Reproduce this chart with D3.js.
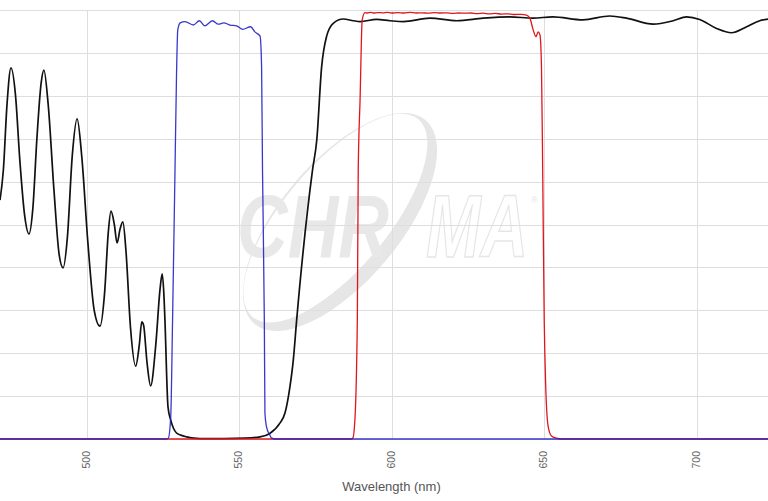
<!DOCTYPE html>
<html>
<head>
<meta charset="utf-8">
<script src="https://cdn.jsdelivr.net/npm/d3@7"></script>
<style>
  html, body { margin: 0; padding: 0; background: #fff; }
  svg { display: block; }
</style>
</head>
<body>
<svg id="chart" width="768" height="501"></svg>
<script>
// ---------------- DATA ----------------
const tickLabels = [500, 550, 600, 650, 700];
const yGridValues = [0, 10, 20, 30, 40, 50, 60, 70, 80, 90, 100];

// Black curve (dichroic) wavelength / transmission
const blackWl = [471.5, 472.6, 473.8, 475.1, 476.6, 478.0, 479.6, 481.0, 482.3, 483.6, 485.0, 485.9,
  487.3, 489.2, 490.9, 492.2, 493.6, 495.2, 496.8, 498.3, 500.3, 502.4, 504.3, 505.8, 507.0, 507.9,
  509.0, 509.9, 510.9, 511.8, 512.8, 514.3, 516.0, 517.2, 518.0, 518.6, 519.7, 520.9, 522.6, 524.0,
  524.7, 525.3, 525.6, 526.6, 527.5, 528.4, 529.4, 530.8, 532.7, 535.0, 537.1, 545.0, 552.0, 556.8,
  560.0, 563.3, 565.0, 566.6, 567.7, 568.8, 574.0, 575.4, 577.0, 578.6, 580.8, 584.1, 587.4, 589.6,
  595.0, 599.4, 603.8, 612.5, 621.3, 630.0, 638.7, 646.3, 652.8, 662.7, 671.5, 677.0, 685.7, 692.3,
  696.7, 701.0, 706.5, 711.4, 716.4, 720.7, 723.5];
const blackT = [55.7, 62.7, 78.0, 86.5, 80.0, 65.0, 52.0, 47.8, 54.0, 70.0, 83.0, 86.0,
  78.0, 58.0, 43.0, 39.9, 47.0, 66.0, 74.6, 66.0, 46.0, 30.0, 26.3, 34.0, 48.0, 53.1,
  50.0, 45.7, 49.0, 50.6, 44.0, 26.0, 17.0, 22.0, 27.3, 26.5, 18.0, 12.4, 22.0, 35.0,
  38.5, 33.0, 27.7, 7.5, 4.4, 2.5, 1.4, 0.9, 0.5, 0.2, 0.1, 0.1, 0.2, 0.5,
  1.3, 3.7, 6.1, 12.2, 18.4, 27.7, 62.7, 69.7, 86.8, 93.8, 96.9, 97.9, 97.5, 97.3,
  97.8, 97.5, 97.3, 98.1, 97.5, 98.1, 98.4, 98.1, 98.4, 97.7, 98.6, 98.1, 96.7, 97.5,
  98.4, 97.8, 95.7, 94.7, 96.1, 97.5, 97.9];

// Blue curve (excitation)
const blueWl = [471.5, 526.0, 526.7, 527.5, 528.1, 528.9, 529.4, 529.8, 530.6, 532.2, 534.9, 536.9,
  538.7, 541.2, 543.1, 544.9, 546.9, 549.1, 551.1, 553.7, 555.1, 556.8, 557.3, 557.6, 558.2, 558.4,
  558.9, 560.0, 560.6, 562.0, 723.5];
const blueT = [0, 0, 0.2, 5.2, 27.7, 62.7, 85.0, 95.3, 97.0, 97.3, 96.5, 97.5,
  96.3, 97.5, 96.7, 97.0, 96.5, 96.3, 95.5, 96.1, 94.9, 93.9, 86.8, 62.7, 27.7, 6.0,
  2.9, 0.9, 0.2, 0, 0];

// Red curve (emission)
const redWl = [471.5, 586.5, 587.2, 587.9, 588.7, 589.0, 589.6, 590.3, 591.2, 592.0, 593.0, 594.0,
  595.5, 597.0, 598.5, 600.0, 602.0, 604.0, 606.0, 608.0, 610.0, 612.0, 614.0, 616.0, 618.0, 620.0,
  622.0, 624.0, 626.0, 628.0, 630.0, 632.0, 634.0, 636.0, 638.0, 640.0, 642.5, 644.2, 645.3, 646.4,
  647.3, 648.0, 648.6, 649.1, 649.5, 650.0, 650.5, 651.3, 652.4, 654.0, 655.5, 723.5];
const redT = [0, 0, 0.2, 4.4, 27.7, 62.7, 79.0, 97.7, 99.4, 99.3, 99.45, 99.3,
  99.4, 99.35, 99.45, 99.3, 99.4, 99.3, 99.45, 99.3, 99.35, 99.25, 99.4, 99.3, 99.35, 99.2,
  99.3, 99.25, 99.3, 99.15, 99.25, 99.1, 99.2, 99.05, 99.1, 98.95, 99.0, 98.8, 98.1, 95.3,
  93.8, 94.9, 94.2, 86.8, 62.7, 27.7, 12.2, 2.9, 0.7, 0.2, 0, 0];

// ---------------- CHART ----------------
const W = 768, H = 501;
const svg = d3.select("#chart");
const x = d3.scaleLinear().domain([471.5, 723.4]).range([0, W]);
const y = d3.scaleLinear().domain([0, 100]).range([439, 10]);

const font = "'Liberation Sans', Arial, sans-serif";

// Watermark logo (behind grid)
const wm = svg.append("g").attr("class", "watermark");
const eg = wm.append("g").attr("transform", "translate(340,222) rotate(-50)");
const ellPath = (cx, cy, rx, ry) =>
  `M${cx + rx},${cy} A${rx},${ry} 0 1 0 ${cx - rx},${cy} A${rx},${ry} 0 1 0 ${cx + rx},${cy} Z`;
eg.append("path")
  .attr("d", ellPath(0, 0, 133, 60) + " " + ellPath(0, -6, 129, 52))
  .attr("fill", "#e6e6e6")
  .attr("fill-rule", "evenodd");
wm.append("text")
  .attr("x", 237).attr("y", 257)
  .attr("font-family", font).attr("font-weight", "bold").attr("font-style", "italic")
  .attr("font-size", 89)
  .attr("textLength", 152).attr("lengthAdjust", "spacingAndGlyphs")
  .attr("fill", "#e8e8e8")
  .text("CHR");
const maText = wm.append("text")
  .attr("x", 426).attr("y", 257)
  .attr("font-family", font).attr("font-weight", "bold").attr("font-style", "italic")
  .attr("font-size", 89);
maText.append("tspan")
  .attr("textLength", 102).attr("lengthAdjust", "spacingAndGlyphs")
  .attr("fill", "#fff").attr("stroke", "#e6e6e6").attr("stroke-width", 1.5)
  .text("MA");
maText.append("tspan")
  .attr("dx", 3).attr("dy", -54)
  .attr("font-size", 9).attr("font-weight", "normal").attr("font-style", "normal")
  .attr("fill", "#e6e6e6")
  .text("®");

// Grid
const grid = svg.append("g").attr("class", "grid");
grid.selectAll("line.h").data(yGridValues).join("line")
  .attr("class", "h")
  .attr("x1", 0).attr("x2", W)
  .attr("y1", d => Math.round(y(d)) + 0.5).attr("y2", d => Math.round(y(d)) + 0.5)
  .attr("stroke", "#dedede").attr("stroke-width", 1);
grid.selectAll("line.v").data(tickLabels).join("line")
  .attr("class", "v")
  .attr("x1", d => Math.round(x(d)) + 0.5).attr("x2", d => Math.round(x(d)) + 0.5)
  .attr("y1", y(100)).attr("y2", y(0))
  .attr("stroke", "#dedede").attr("stroke-width", 1);

// Axis ticks (rotated labels)
const xAxis = d3.axisBottom(x).tickValues(tickLabels).tickSize(0).tickFormat(d3.format("d"));
const ax = svg.append("g").attr("transform", `translate(0,${y(0)})`).call(xAxis);
ax.select(".domain").remove();
ax.selectAll("text")
  .attr("font-family", font).attr("font-size", 10.5).attr("fill", "#666")
  .attr("transform", "rotate(-90)")
  .attr("x", -12).attr("y", 0).attr("dy", "0.25em")
  .attr("text-anchor", "end");

// Axis title
svg.append("text")
  .attr("x", 391.5).attr("y", 491)
  .attr("text-anchor", "middle")
  .attr("font-family", font).attr("font-size", 13).attr("fill", "#555")
  .text("Wavelength (nm)");

// Curves
const clip = svg.append("defs").append("clipPath").attr("id", "plotclip");
clip.append("rect").attr("x", 0).attr("y", 0).attr("width", W).attr("height", 442);
const plot = svg.append("g").attr("clip-path", "url(#plotclip)");

const line = d3.line().x(d => x(d[0])).y(d => y(d[1])).curve(d3.curveMonotoneX);
const zip = (a, b) => a.map((v, i) => [v, b[i]]);

plot.append("path").datum(zip(blackWl, blackT))
  .attr("d", line).attr("fill", "none").attr("stroke", "#111").attr("stroke-width", 1.7)
  .attr("stroke-linejoin", "round");
plot.append("path").datum(zip(redWl, redT))
  .attr("d", line).attr("fill", "none").attr("stroke", "#e0161b").attr("stroke-width", 1.3)
  .attr("stroke-linejoin", "round");
plot.append("path").datum(zip(blueWl, blueT))
  .attr("d", line).attr("fill", "none").attr("stroke", "#2222c4").attr("stroke-width", 1.3)
  .attr("stroke-opacity", 0.9)
  .attr("stroke-linejoin", "round");
</script>
</body>
</html>
